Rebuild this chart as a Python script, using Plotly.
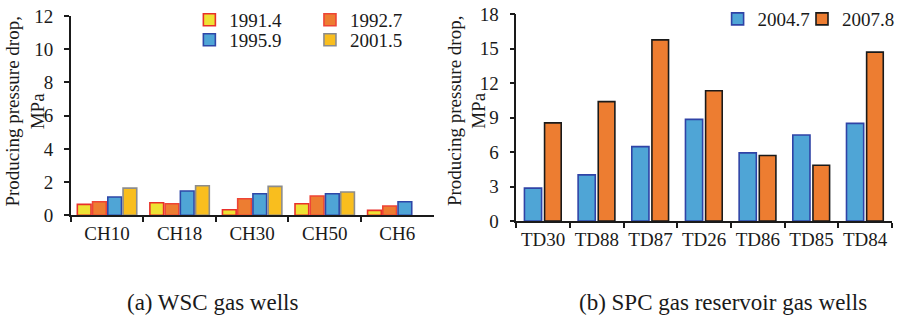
import plotly.graph_objects as go

# ---------------- data ----------------
wsc_wells = ["CH10", "CH18", "CH30", "CH50", "CH6"]
wsc_1991_4 = [0.66, 0.76, 0.34, 0.70, 0.30]
wsc_1992_7 = [0.82, 0.70, 1.00, 1.16, 0.56]
wsc_1995_9 = [1.10, 1.46, 1.30, 1.30, 0.82]
wsc_2001_5 = [1.64, 1.78, 1.74, 1.40, None]

spc_wells = ["TD30", "TD88", "TD87", "TD26", "TD86", "TD85", "TD84"]
spc_2004_7 = [2.86, 4.02, 6.48, 8.85, 5.93, 7.49, 8.50]
spc_2007_8 = [8.54, 10.39, 15.77, 11.34, 5.70, 4.86, 14.70]

left_ticks = [0, 2, 4, 6, 8, 10, 12]
right_ticks = [0, 3, 6, 9, 12, 15, 18]

FONT = "Liberation Serif, Times New Roman, serif"
W, H = 900, 323

fig = go.Figure()

left_series = [
    ("1991.4", wsc_1991_4, "#EEE234", "#E8302A", "legend"),
    ("1992.7", wsc_1992_7, "#ED7D31", "#EE4436", "legend2"),
    ("1995.9", wsc_1995_9, "#4FA5D6", "#2E47A8", "legend3"),
    ("2001.5", wsc_2001_5, "#F9BE1E", "#8C8C8C", "legend4"),
]
for name, vals, fill, line, lg in left_series:
    fig.add_trace(go.Bar(
        x=wsc_wells, y=vals, name=name, xaxis="x", yaxis="y",
        marker=dict(color=fill, line=dict(color=line, width=1.6)),
        legend=lg, hoverinfo="skip",
    ))

right_series = [
    ("2004.7", spc_2004_7, "#4FA5D6", "#2F43A6", "legend5", -0.348, 0.32),
    ("2007.8", spc_2007_8, "#ED7D31", "#1A1A1A", "legend6", 0.027, 0.31),
]
for name, vals, fill, line, lg, off, wd in right_series:
    fig.add_trace(go.Bar(
        x=spc_wells, y=vals, name=name, xaxis="x2", yaxis="y2",
        marker=dict(color=fill, line=dict(color=line, width=1.6)),
        offset=off, width=wd,
        legend=lg, hoverinfo="skip",
    ))

def px(x):
    return x / W

def py(y):
    return 1 - y / H

axis_common = dict(
    showline=True, linecolor="#1a1a1a", linewidth=1.5,
    ticks="outside", ticklen=5, tickwidth=1.5, tickcolor="#1a1a1a",
    showgrid=False, zeroline=False, automargin=False, tickangle=0,
    tickfont=dict(family=FONT, size=19, color="#1a1a1a"),
)

fig.update_layout(
    width=W, height=H,
    margin=dict(l=0, r=0, t=0, b=0),
    paper_bgcolor="white", plot_bgcolor="white",
    barmode="group", bargap=0.16, bargroupgap=0.1,
    font=dict(family=FONT, size=19, color="#1a1a1a"),
    xaxis=dict(domain=[px(71), px(435)], anchor="y", type="category",
               tickson="boundaries", **axis_common),
    yaxis=dict(domain=[py(215), py(15)], anchor="x", range=[0, 12],
               tickvals=left_ticks, ticklabelstandoff=7, **axis_common),
    xaxis2=dict(domain=[px(518), px(895)], anchor="y2", type="category",
                tickson="boundaries", **axis_common),
    yaxis2=dict(domain=[py(220.7), py(13.3)], anchor="x2", range=[0, 18],
                tickvals=right_ticks, ticklabelstandoff=7, **axis_common),
    showlegend=True,
)

leg_common = dict(bgcolor="rgba(0,0,0,0)", borderwidth=0, xanchor="left",
                  yanchor="middle", orientation="v",
                  font=dict(family=FONT, size=19, color="#1a1a1a"))
fig.update_layout(
    legend=dict(x=px(190), y=py(19), **leg_common),
    legend2=dict(x=px(311), y=py(19), **leg_common),
    legend3=dict(x=px(190), y=py(39), **leg_common),
    legend4=dict(x=px(311), y=py(39), **leg_common),
    legend5=dict(x=px(720), y=py(18), **leg_common),
    legend6=dict(x=px(805), y=py(18), **leg_common),
)

ann_font = dict(family=FONT, size=19, color="#1a1a1a")
ytitle = "Producing pressure drop,<br>MPa"
fig.add_annotation(text=ytitle, x=px(25), y=py(110), xref="paper", yref="paper",
                   xanchor="center", yanchor="middle",
                   textangle=-90, showarrow=False, font=ann_font)
fig.add_annotation(text=ytitle, x=px(468), y=py(110), xref="paper", yref="paper",
                   xanchor="center", yanchor="middle",
                   textangle=-90, showarrow=False, font=ann_font)
fig.add_annotation(text="(a) WSC gas wells", x=px(213), y=py(302),
                   xref="paper", yref="paper", showarrow=False,
                   xanchor="center", yanchor="middle",
                   font=dict(family=FONT, size=23, color="#1a1a1a"))
fig.add_annotation(text="(b) SPC gas reservoir gas wells", x=px(725), y=py(302),
                   xref="paper", yref="paper", showarrow=False,
                   xanchor="center", yanchor="middle",
                   font=dict(family=FONT, size=23, color="#1a1a1a"))

fig.write_html("out.html")
